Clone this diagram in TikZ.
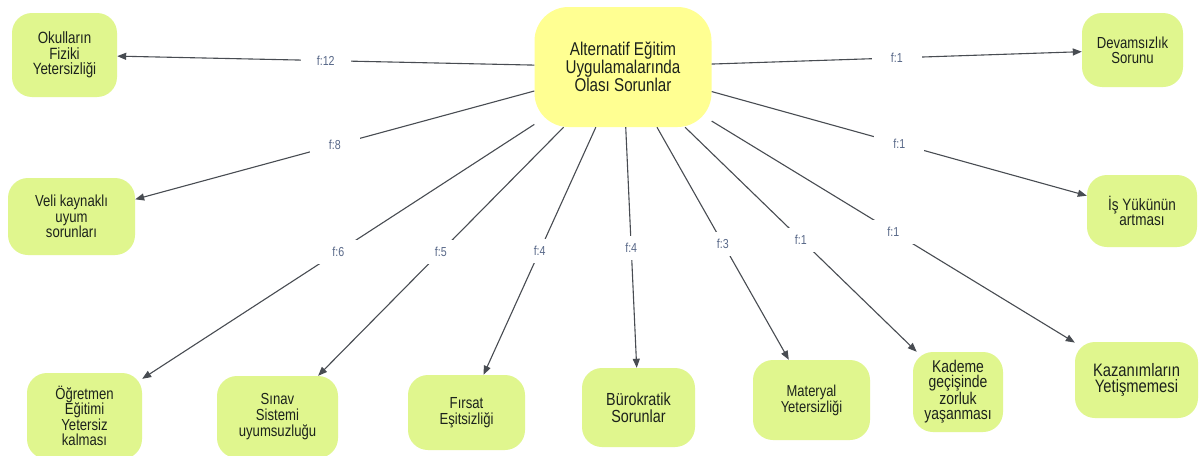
\documentclass[tikz,border=0pt]{standalone}
\usepackage{fontspec}
\setmainfont{Liberation Sans}[FakeStretch=0.82]
\usetikzlibrary{arrows.meta}
\definecolor{leafgreen}{RGB}{224,246,142}
\definecolor{hubyellow}{RGB}{255,255,146}
\definecolor{inktext}{RGB}{28,34,28}
\definecolor{linkgray}{RGB}{72,76,82}
\definecolor{freqblue}{RGB}{88,104,136}
\tikzset{
  leaf/.style={rounded corners=20pt, fill=leafgreen, text=inktext, align=center, inner sep=0pt},
  hub/.style={rounded corners=34pt, fill=hubyellow, text=inktext, align=center, inner sep=0pt},
  link/.style={draw=linkgray, line width=1.1pt, -{Triangle[length=9pt,width=7pt]}},
  freq/.style={fill=white, text=freqblue, font=\fontsize{13}{13}\selectfont,
    minimum width=50pt, minimum height=24pt, inner sep=0pt, pos=0.5}
}
\begin{document}
\begin{tikzpicture}[x=1pt,y=-1pt]
\useasboundingbox (0,0) rectangle (1201,455);
\clip (0,0) rectangle (1201,455);
\fill[white] (0,0) rectangle (1201,455);

% central topic
\node[hub, minimum width=177pt, minimum height=120pt, font=\fontsize{18.5}{17}\selectfont]
  (hub) at (623,67) {Alternatif Eğitim\\Uygulamalarında\\Olası Sorunlar};

% problem nodes
\node[leaf, minimum width=105pt, minimum height=84pt, font=\fontsize{16.3}{15.5}\selectfont]
  (okul) at (64.5,55) {Okulların\\Fiziki\\Yetersizliği};
\node[leaf, minimum width=101pt, minimum height=74pt, font=\fontsize{16}{15}\selectfont]
  (devam) at (1132.5,50) {Devamsızlık\\Sorunu};
\node[leaf, minimum width=127pt, minimum height=77pt, font=\fontsize{16}{15.5}\selectfont]
  (veli) at (71.5,216.5) {Veli kaynaklı\\uyum\\sorunları};
\node[leaf, minimum width=110pt, minimum height=72pt, font=\fontsize{16.5}{15.5}\selectfont]
  (isyuku) at (1142,211) {İş Yükünün\\artması};
\node[leaf, minimum width=115pt, minimum height=86pt, font=\fontsize{16}{15.5}\selectfont]
  (ogretmen) at (84.5,416) {Öğretmen\\Eğitimi\\Yetersiz\\kalması};
\node[leaf, minimum width=121pt, minimum height=82pt, font=\fontsize{16}{16}\selectfont]
  (sinav) at (277.5,417) {Sınav\\Sistemi\\uyumsuzluğu};
\node[leaf, minimum width=117pt, minimum height=75pt, font=\fontsize{16}{16.5}\selectfont]
  (firsat) at (466.5,412.5) {Fırsat\\Eşitsizliği};
\node[leaf, minimum width=113pt, minimum height=79pt, font=\fontsize{17.5}{17}\selectfont]
  (buro) at (638.5,407.5) {Bürokratik\\Sorunlar};
\node[leaf, minimum width=117pt, minimum height=80pt, font=\fontsize{15.8}{16}\selectfont]
  (materyal) at (811.5,400) {Materyal\\Yetersizliği};
\node[leaf, minimum width=90pt, minimum height=80pt, font=\fontsize{17}{15}\selectfont]
  (kademe) at (958,392) {Kademe\\geçişinde\\zorluk\\yaşanması};
\node[leaf, minimum width=123pt, minimum height=76pt, font=\fontsize{18}{16}\selectfont]
  (kazanim) at (1136.5,380) {Kazanımların\\Yetişmemesi};

% connectors with frequencies
\draw[link] (hub) -- node[freq] {f:12} (okul);
\draw[link] (hub) -- node[freq] {f:1} (devam);
\draw[link] (hub) -- node[freq] {f:8} (veli);
\draw[link] (hub) -- node[freq] {f:1} (isyuku);
\draw[link] (hub) -- node[freq] {f:6} (ogretmen);
\draw[link] (hub) -- node[freq] {f:5} (sinav);
\draw[link] (hub) -- node[freq] {f:4} (firsat);
\draw[link] (hub) -- node[freq] {f:4} (buro);
\draw[link] (hub) -- node[freq] {f:3} (materyal);
\draw[link] (hub) -- node[freq] {f:1} (kademe);
\draw[link] (hub) -- node[freq] {f:1} (kazanim);
\end{tikzpicture}
\end{document}
